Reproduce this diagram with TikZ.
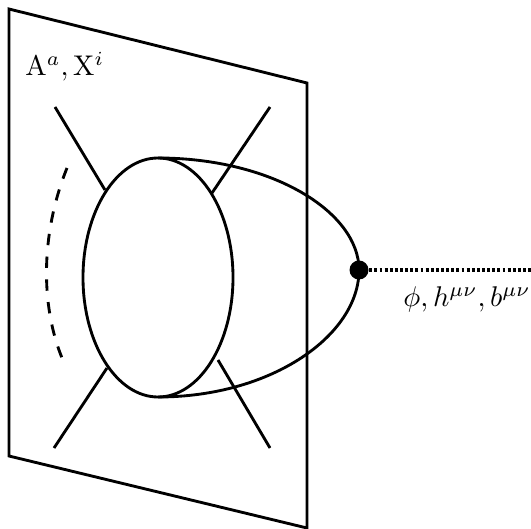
\documentclass[tikz,border=0pt]{standalone}
\begin{document}
\begin{tikzpicture}[x=0.351pt, y=-0.351pt, line width=1pt, line join=miter]
  \useasboundingbox (0,0) rectangle (531,529);
  \tikzset{lbl/.style={anchor=base west, inner sep=0pt}}
  % brane
  \coordinate (P1) at (9,9);
  \coordinate (P2) at (307,83);
  \coordinate (P3) at (307,528);
  \coordinate (P4) at (9,456);
  \draw (P1)--(P2)--(P3)--(P4)--cycle;
  % disk and cap
  \coordinate (T) at (158,158);
  \coordinate (B) at (158,397);
  \coordinate (V) at (359,270);
  \draw (158,277.5) ellipse (75 and 119.5);
  \draw (T) .. controls (272,158) and (359,212) .. (V)
            .. controls (359,335) and (272,397) .. (B);
  % legs on the brane
  \draw (55,107)--(105,190);
  \draw (270,107)--(212,193);
  \draw (107,368)--(54,448);
  \draw (218,360)--(270,448);
  \draw[dash pattern=on 4pt off 4pt] (67,168) .. controls (40,235) and (40,310) .. (65,365);
  % closed string state
  \coordinate (E) at (531,270);
  \draw[line width=1.1pt, dash pattern=on 1pt off 0.8pt] (V)--(E);
  \fill (V) circle (9.5);
  \node[lbl] (open) at (24,76) {$\mathrm{A}^a,\mathrm{X}^i$};
  \node[lbl] (closed) at (402,307) {$\phi,h^{\mu\nu},b^{\mu\nu}$};
\end{tikzpicture}
\end{document}
